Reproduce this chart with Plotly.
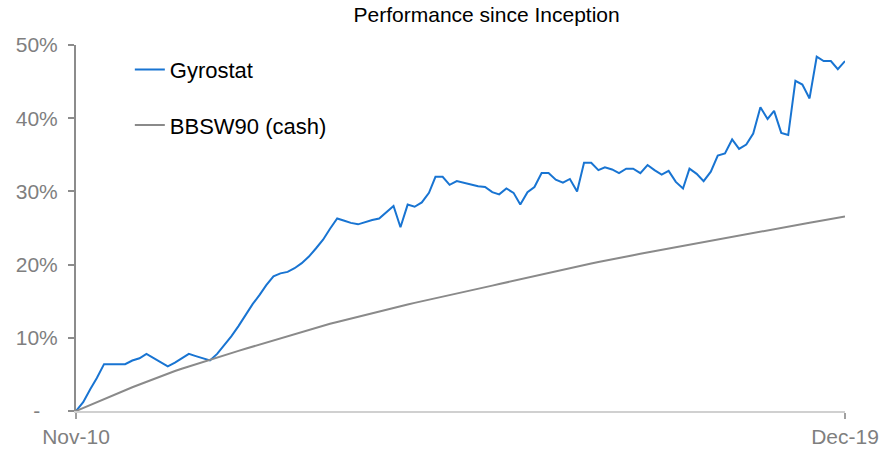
import pandas as pd
import plotly.graph_objects as go

months = pd.date_range("2010-11-30", "2019-12-31", freq="ME")

gyrostat = [0.0, 1.2, 3.0, 4.5, 6.4, 6.4, 6.4, 6.4, 6.9, 7.2,
            7.8, 7.2, 6.6, 6.1, 6.6, 7.2, 7.8, 7.5, 7.2, 6.9,
            7.8, 9.0, 10.2, 11.6, 13.1, 14.6, 15.9, 17.2, 18.4, 18.8,
            19.0, 19.5, 20.2, 21.1, 22.2, 23.4, 24.9, 26.3, 26.0, 25.7,
            25.5, 25.8, 26.1, 26.3, 27.1, 28.0, 25.1, 28.2, 27.9, 28.5,
            29.8, 32.0, 32.0, 30.9, 31.4, 31.2, 30.9, 30.7, 30.6, 29.9,
            29.6, 30.4, 29.8, 28.2, 29.9, 30.6, 32.5, 32.5, 31.6, 31.2,
            31.7, 30.0, 33.9, 33.9, 32.9, 33.3, 33.0, 32.5, 33.1, 33.1,
            32.5, 33.6, 32.9, 32.3, 32.8, 31.3, 30.4, 33.1, 32.4, 31.4,
            32.7, 34.9, 35.2, 37.1, 35.8, 36.4, 37.9, 41.5, 39.9, 41.0,
            38.0, 37.7, 45.1, 44.6, 42.7, 48.4, 47.8, 47.8, 46.7, 47.8]

bbsw90 = [0.00, 0.42, 0.84, 1.26, 1.68, 2.10, 2.48, 2.86, 3.24, 3.62,
          4.00, 4.38, 4.76, 5.14, 5.46, 5.78, 6.10, 6.42, 6.74, 7.03,
          7.35, 7.64, 7.93, 8.22, 8.51, 8.80, 9.09, 9.38, 9.67, 9.96,
          10.25, 10.54, 10.83, 11.12, 11.41, 11.66, 11.91, 12.16, 12.41, 12.66,
          12.91, 13.16, 13.41, 13.66, 13.91, 14.12, 14.34, 14.55, 14.77, 14.98,
          15.20, 15.41, 15.63, 15.84, 16.06, 16.27, 16.49, 16.70, 16.92, 17.13,
          17.35, 17.56, 17.78, 17.99, 18.21, 18.42, 18.64, 18.85, 19.07, 19.28,
          19.50, 19.71, 19.93, 20.14, 20.36, 20.55, 20.73, 20.92, 21.10, 21.29,
          21.48, 21.66, 21.85, 22.04, 22.22, 22.41, 22.60, 22.78, 22.97, 23.15,
          23.34, 23.51, 23.68, 23.85, 24.02, 24.19, 24.36, 24.53, 24.70, 24.87,
          25.04, 25.21, 25.38, 25.55, 25.72, 25.89, 26.06, 26.23, 26.40, 26.57]

y_ticks = [0, 10, 20, 30, 40, 50]
y_labels = ["-\u00a0\u00a0\u00a0", "10%", "20%", "30%", "40%", "50%"]
x_labels = ["Nov-10", "Dec-19"]

fig = go.Figure()

fig.add_trace(go.Scatter(
    name="Gyrostat",
    x=months,
    y=gyrostat,
    mode="lines",
    line=dict(color="#1874d2", width=2),
    legendgroup="a"
))

fig.add_trace(go.Scatter(
    name="BBSW90 (cash)",
    x=months,
    y=bbsw90,
    mode="lines",
    line=dict(color="#8a8a8a", width=2),
    legendgroup="b"
))

fig.update_layout(
    width=888, height=451,
    margin=dict(l=76, r=43, t=45, b=40),
    paper_bgcolor="white", plot_bgcolor="white",
    font=dict(family="Liberation Sans, Arial, sans-serif", color="#000000"),
    title=dict(text="Performance since Inception", x=0.548, xanchor="center",
               y=0.984, yanchor="top", font=dict(size=21, color="#000000")),
    legend=dict(x=0.07, y=0.99, xanchor="left", yanchor="top",
                font=dict(size=22, color="#000000"), tracegroupgap=24,
                bgcolor="rgba(0,0,0,0)"),
    showlegend=True,
)

fig.update_xaxes(
    range=[months[0], months[-1]],
    tickvals=[months[0], months[-1]], ticktext=x_labels,
    showgrid=False, zeroline=False, automargin=False,
    showline=True, linecolor="#d0d0d0", linewidth=2,
    ticks="outside", ticklen=6, tickcolor="#a0a0a0", tickwidth=2,
    tickfont=dict(size=21, color="#7f7f7f"),
)

fig.update_yaxes(
    range=[0, 50],
    tickvals=y_ticks, ticktext=y_labels,
    showgrid=False, zeroline=False, automargin=False,
    showline=True, linecolor="#8c8c8c", linewidth=2,
    ticks="outside", ticklen=6, tickcolor="#8c8c8c", tickwidth=2,
    ticklabelstandoff=6,
    tickfont=dict(size=21, color="#7f7f7f"),
)

fig.write_html("out.html", config={"displayModeBar": False},
               post_script="document.body.style.margin='0';")
